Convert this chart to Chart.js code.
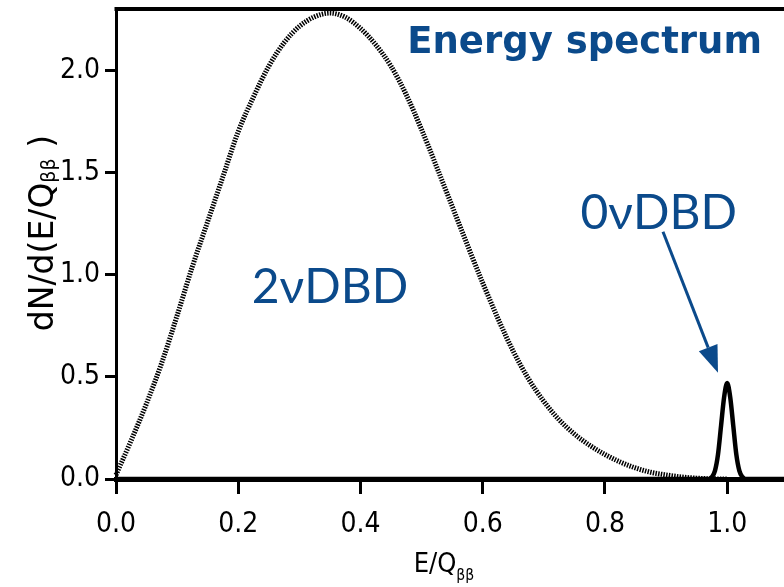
<!DOCTYPE html>
<html>
<head>
<meta charset="utf-8">
<script src="https://cdn.jsdelivr.net/npm/chart.js@4.4.1/dist/chart.umd.min.js"></script>
<style>
  html, body { margin: 0; padding: 0; background: #fff; }
  #spectrum { display: block; }
</style>
</head>
<body>
<canvas id="spectrum" width="784" height="587"></canvas>
<script>
/* Two-neutrino vs neutrinoless double beta decay, summed electron energy */

const X_TICKS = [0, 0.2, 0.4, 0.6, 0.8, 1.0];
const Y_TICKS = [0, 0.5, 1.0, 1.5, 2.0];

// 2nu continuum
const E_2NU = [0, 0.025, 0.05, 0.075, 0.10, 0.125, 0.15, 0.175, 0.20, 0.225,
  0.25, 0.275, 0.30, 0.325, 0.35, 0.375, 0.40, 0.425, 0.45, 0.475,
  0.50, 0.525, 0.55, 0.575, 0.60, 0.625, 0.65, 0.675, 0.70, 0.725,
  0.75, 0.775, 0.80, 0.825, 0.85, 0.875, 0.90, 0.925, 0.95, 0.975, 1.0];
const DN_2NU = [0.02, 0.19, 0.37, 0.57, 0.80, 1.04, 1.26, 1.48, 1.70, 1.87,
  2.02, 2.135, 2.215, 2.262, 2.28, 2.26, 2.205, 2.125, 2.02, 1.88,
  1.71, 1.525, 1.335, 1.145, 0.96, 0.785, 0.625, 0.49, 0.38, 0.29,
  0.22, 0.165, 0.12, 0.083, 0.054, 0.033, 0.02, 0.01, 0.004, 0.001, 0];

// 0nu line at the Q value
const E_0NU = [0, 0.97, 0.975, 0.98, 0.985, 0.99, 0.995, 1.0, 1.005, 1.01, 1.015, 1.02, 1.025, 1.03, 1.1];
const DN_0NU = [0, 0, 0.01, 0.04, 0.12, 0.26, 0.40, 0.47, 0.40, 0.26, 0.12, 0.04, 0.01, 0, 0];

const X_MAX = 1.093;
const Y_MAX = 2.3;

const BLUE = '#0b4a8b';
const TICK_FONT = '"Liberation Sans Narrow", "DejaVu Sans Condensed", sans-serif';

const toPoints = (xs, ys) => xs.map((x, i) => ({ x: x, y: ys[i] }));

// text with a subscript tail, e.g. Q + ββ
function drawSubText(ctx, parts, x, y, size, family, drop) {
  let cx = x;
  parts.forEach(p => {
    const s = p.sub ? size * 0.58 : size;
    ctx.font = s + 'px ' + family;
    ctx.fillText(p.t, cx, y + (p.sub ? size * drop : 0));
    cx += ctx.measureText(p.t).width;
  });
  return cx - x;
}

function measureSubText(ctx, parts, size, family) {
  let w = 0;
  parts.forEach(p => {
    ctx.font = (p.sub ? size * 0.58 : size) + 'px ' + family;
    w += ctx.measureText(p.t).width;
  });
  return w;
}

const labelsPlugin = {
  id: 'spectrumLabels',
  afterDraw(chart) {
    const { ctx, chartArea, scales } = chart;
    const xs = scales.x, ys = scales.y;
    ctx.save();

    // top frame
    ctx.strokeStyle = '#000';
    ctx.lineWidth = 4;
    ctx.beginPath();
    ctx.moveTo(chartArea.left - 1.5, chartArea.top);
    ctx.lineTo(chartArea.right, chartArea.top);
    ctx.stroke();

    // title
    ctx.fillStyle = BLUE;
    ctx.font = 'bold 37px "DejaVu Sans"';
    ctx.textAlign = 'right';
    ctx.textBaseline = 'alphabetic';
    ctx.fillText('Energy spectrum', 762, 53);

    // curve labels
    ctx.textAlign = 'left';
    ctx.font = '48px Lato, "Open Sans", sans-serif';
    ctx.fillText('2νDBD', xs.getPixelForValue(0.222), ys.getPixelForValue(0.86));
    ctx.fillText('0νDBD', xs.getPixelForValue(0.76), ys.getPixelForValue(1.225));

    // arrow to the 0nu peak
    const ax0 = xs.getPixelForValue(0.895), ay0 = ys.getPixelForValue(1.21);
    const ax1 = xs.getPixelForValue(0.985), ay1 = ys.getPixelForValue(0.52);
    const ang = Math.atan2(ay1 - ay0, ax1 - ax0);
    const head = 27, half = 10;
    const bx = ax1 - head * Math.cos(ang), by = ay1 - head * Math.sin(ang);
    ctx.strokeStyle = BLUE;
    ctx.lineWidth = 3;
    ctx.beginPath();
    ctx.moveTo(ax0, ay0);
    ctx.lineTo(bx, by);
    ctx.stroke();
    ctx.beginPath();
    ctx.moveTo(ax1, ay1);
    ctx.lineTo(bx + half * Math.sin(ang), by - half * Math.cos(ang));
    ctx.lineTo(bx - half * Math.sin(ang), by + half * Math.cos(ang));
    ctx.closePath();
    ctx.fill();

    // axis titles
    ctx.fillStyle = '#000';
    ctx.textAlign = 'left';
    const xParts = [{ t: 'E/Q' }, { t: 'ββ', sub: true }];
    const xw = measureSubText(ctx, xParts, 27, TICK_FONT);
    drawSubText(ctx, xParts, 444 - xw / 2, 572, 27, TICK_FONT, 0.28);

    const yFont = '"DejaVu Sans", sans-serif';
    const yParts = [{ t: 'dN/d(E/Q' }, { t: 'ββ', sub: true }, { t: ' )' }];
    ctx.translate(53, 233);
    ctx.rotate(-Math.PI / 2);
    const yw = measureSubText(ctx, yParts, 33, yFont);
    drawSubText(ctx, yParts, -yw / 2, 0, 33, yFont, 0.06);

    ctx.restore();
  }
};

new Chart(document.getElementById('spectrum'), {
  type: 'line',
  data: {
    datasets: [
      {
        label: '2νDBD',
        data: toPoints(E_2NU, DN_2NU),
        borderColor: '#000',
        borderWidth: 5,
        borderDash: [1.5, 1.2],
        pointRadius: 0,
        cubicInterpolationMode: 'monotone',
        fill: false
      },
      {
        label: '0νDBD',
        data: toPoints(E_0NU, DN_0NU),
        borderColor: '#000',
        borderWidth: 4.5,
        pointRadius: 0,
        cubicInterpolationMode: 'monotone',
        fill: false
      }
    ]
  },
  options: {
    responsive: false,
    animation: false,
    clip: 4,
    layout: { padding: { top: 9, right: 0, left: 0, bottom: 0 } },
    plugins: {
      legend: { display: false },
      tooltip: { enabled: false }
    },
    scales: {
      x: {
        type: 'linear',
        min: 0,
        max: X_MAX,
        afterBuildTicks: s => { s.ticks = X_TICKS.map(v => ({ value: v })); },
        afterFit: s => { s.height = 108; s.paddingLeft = 0; s.paddingRight = 0; },
        border: { display: true, color: '#000', width: 5 },
        grid: { drawOnChartArea: false, color: '#000', tickLength: 15, tickWidth: 3 },
        ticks: {
          color: '#000',
          padding: 14,
          maxRotation: 0,
          font: { family: TICK_FONT, size: 28 },
          callback: v => v.toFixed(1)
        }
      },
      y: {
        type: 'linear',
        min: 0,
        max: Y_MAX,
        afterBuildTicks: s => { s.ticks = Y_TICKS.map(v => ({ value: v })); },
        afterFit: s => { s.width = 116; s.paddingTop = 0; s.paddingBottom = 0; },
        border: { display: true, color: '#000', width: 3 },
        grid: { drawOnChartArea: false, color: '#000', tickLength: 11, tickWidth: 3 },
        ticks: {
          color: '#000',
          padding: 5,
          font: { family: TICK_FONT, size: 28 },
          callback: v => v.toFixed(1)
        }
      }
    }
  },
  plugins: [labelsPlugin]
});
</script>
</body>
</html>
